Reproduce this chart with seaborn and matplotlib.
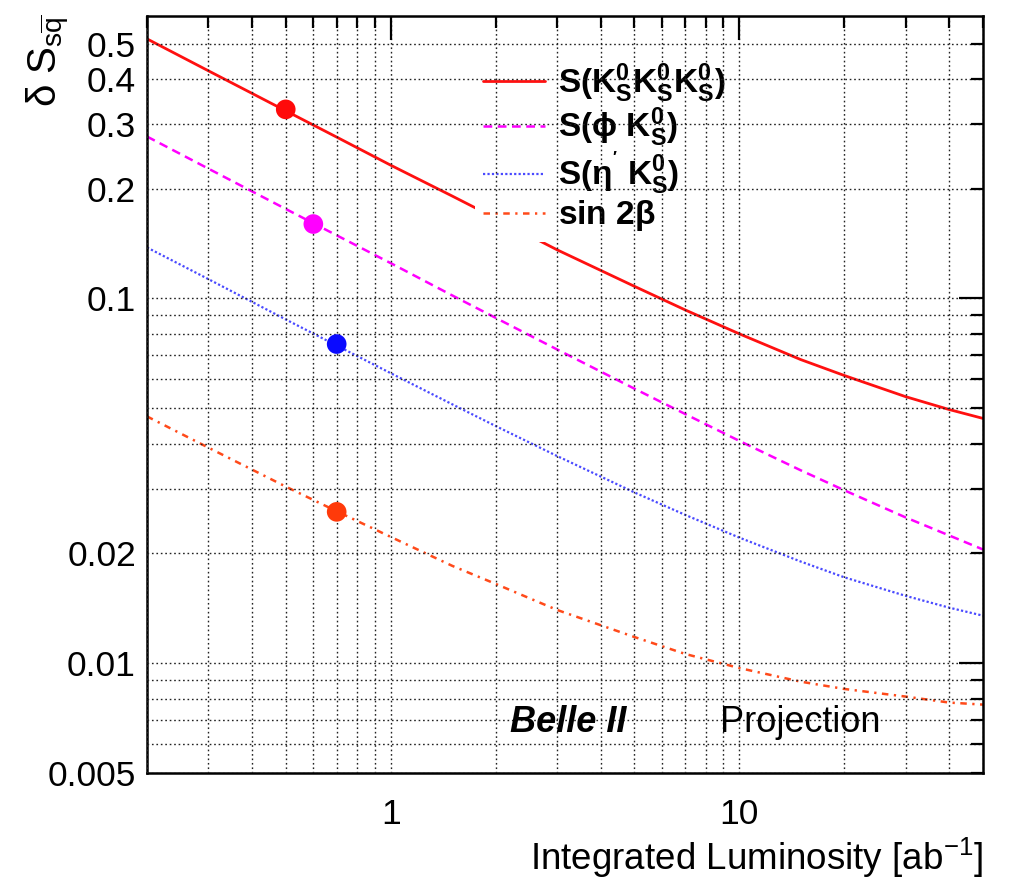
import numpy as np
import pandas as pd
import seaborn as sns
import matplotlib
matplotlib.use("Agg")
import matplotlib.pyplot as plt
from matplotlib.ticker import LogLocator, FuncFormatter

# Projected uncertainty on S versus integrated luminosity [ab^-1]
lumi = [0.2, 0.3, 0.5, 0.7, 1.0, 1.5, 2.0, 3.0, 5.0, 7.0, 10.0, 15.0, 20.0, 30.0, 40.0, 50.0]
s_ks_ks_ks = [0.515, 0.421, 0.327, 0.277, 0.232, 0.191, 0.166, 0.136, 0.108, 0.093,
              0.080, 0.068, 0.0615, 0.0538, 0.0496, 0.0469]
s_phi_ks = [0.278, 0.227, 0.176, 0.149, 0.125, 0.102, 0.0885, 0.0725, 0.0566, 0.0482,
            0.0407, 0.0338, 0.0298, 0.0251, 0.0224, 0.0205]
s_etap_ks = [0.138, 0.113, 0.0876, 0.0743, 0.0624, 0.0513, 0.0447, 0.0370, 0.0294, 0.0255,
             0.0221, 0.0190, 0.0172, 0.0153, 0.0142, 0.0135]
sin_2beta = [0.0475, 0.0390, 0.0305, 0.0261, 0.0222, 0.0185, 0.0165, 0.0140, 0.0118, 0.0106,
             0.0097, 0.0089, 0.0085, 0.0081, 0.0078, 0.0077]

# Current measurements
point_lumi = [0.5, 0.6, 0.7, 0.7]
point_err = [0.33, 0.16, 0.075, 0.026]

legend_labels = [r"$\mathbf{S(K^0_S K^0_S K^0_S)}$",
                 r"$\mathbf{S(\phi\ K^0_S)}$",
                 r"$\mathbf{S(\eta^{'}\ K^0_S)}$",
                 r"$\mathbf{sin\ 2\beta}$"]

y_tick_values = [0.005, 0.01, 0.02, 0.1, 0.2, 0.3, 0.4, 0.5]
y_tick_labels = ["0.005", "0.01", "0.02", "0.1", "0.2", "0.3", "0.4", "0.5"]
x_tick_values = [1, 10]
x_tick_labels = ["1", "10"]

sns.set_theme(style="white")
plt.rcParams["font.family"] = ["Liberation Sans", "DejaVu Sans"]
plt.rcParams["text.color"] = "black"
plt.rcParams["mathtext.fontset"] = "custom"
plt.rcParams["mathtext.rm"] = "Liberation Sans"
plt.rcParams["mathtext.it"] = "Liberation Sans:italic"
plt.rcParams["mathtext.bf"] = "Liberation Sans:bold"
plt.rcParams["mathtext.sf"] = "Liberation Sans"
plt.rcParams["mathtext.fallback"] = "stixsans"

fig = plt.figure(figsize=(10.1, 8.81), dpi=100)
ax = fig.add_axes([147 / 1010, 1 - 773 / 881, (983 - 147) / 1010, (773 - 16) / 881])
ax.set_xscale("log")
ax.set_yscale("log")

series = [
    (s_ks_ks_ks, "#ff1010", "-", 2.0),
    (s_phi_ks, "#ff00ff", (0, (3.5, 2.2)), 1.8),
    (s_etap_ks, "#4a4aff", (0, (1, 1)), 1.6),
    (sin_2beta, "#ff4a1a", (0, (2.6, 2.2, 0.9, 2.2)), 1.8),
]
for vals, col, ls, lw in series:
    sns.lineplot(x=lumi, y=vals, ax=ax, color=col, linestyle=ls, linewidth=lw,
                 errorbar=None, zorder=1)

point_colors = ["#ff0a0a", "#ff00ff", "#0a0aff", "#ff3a0a"]
pts = pd.DataFrame({"lumi": point_lumi, "err": point_err, "c": point_colors})
sns.scatterplot(data=pts, x="lumi", y="err", hue="c", palette=dict(zip(point_colors, point_colors)),
                s=200, edgecolor="none", legend=False, ax=ax, zorder=3)

ax.set_xlim(0.2, 50)
ax.set_ylim(0.005, 0.595)
ax.set_xlabel("")
ax.set_ylabel("")

# ticks
xlab = dict(zip(x_tick_values, x_tick_labels))
ylab = dict(zip([round(v, 4) for v in y_tick_values], y_tick_labels))
ax.xaxis.set_major_locator(LogLocator(base=10, subs=(1.0,)))
ax.xaxis.set_minor_locator(LogLocator(base=10, subs=np.arange(2, 10), numticks=20))
ax.yaxis.set_major_locator(LogLocator(base=10, subs=(1.0,)))
ax.yaxis.set_minor_locator(LogLocator(base=10, subs=np.arange(2, 10), numticks=20))
ax.xaxis.set_major_formatter(FuncFormatter(lambda v, p: xlab.get(round(v, 4), "")))
ax.xaxis.set_minor_formatter(FuncFormatter(lambda v, p: ""))
ax.yaxis.set_major_formatter(FuncFormatter(lambda v, p: ylab.get(round(v, 4), "")))
ax.yaxis.set_minor_formatter(FuncFormatter(lambda v, p: ylab.get(round(v, 4), "")))

ax.tick_params(which="both", direction="in", top=True, right=True, width=1.6,
               color="black", labelsize=25.5, labelcolor="black")
ax.tick_params(which="major", length=17)
ax.tick_params(which="minor", length=8.5)
ax.tick_params(axis="x", which="both", pad=18)
ax.tick_params(axis="y", which="both", pad=8)

for sp in ax.spines.values():
    sp.set_color("black")
    sp.set_linewidth(1.8)

ax.set_axisbelow(False)
ax.grid(True, which="both", color="#222222", linestyle=(0, (1.2, 2)), linewidth=1.0)

leg = ax.legend(handles=ax.lines[:4], labels=legend_labels, loc="upper left",
                bbox_to_anchor=(475 / 1010, 1 - 53 / 881), bbox_transform=fig.transFigure,
                borderaxespad=0, frameon=True, fancybox=False, framealpha=1,
                facecolor="white", edgecolor="none", fontsize=24, handlelength=1.85,
                handletextpad=0.4, labelspacing=0.03, borderpad=0.25)
leg.set_zorder(2)
for t in leg.get_texts():
    t.set_color("black")

fig.text(510 / 1010, 1 - 722 / 881, "Belle II", fontsize=26, fontweight="bold",
         fontstyle="italic", ha="left", va="center")
fig.text(720 / 1010, 1 - 722 / 881, "Projection", fontsize=26, ha="left", va="center")
fig.text(983 / 1010, 1 - 858 / 881, r"Integrated Luminosity [ab$^{-1}$]", fontsize=26.5,
         ha="right", va="center")
fig.text(48 / 1010, 1 - 14 / 881, r"$\mathrm{\delta\ S_{s\overline{q}}}$", fontsize=29,
         rotation=90, ha="center", va="top")

fig.savefig("out.png", dpi=100, facecolor="white")
